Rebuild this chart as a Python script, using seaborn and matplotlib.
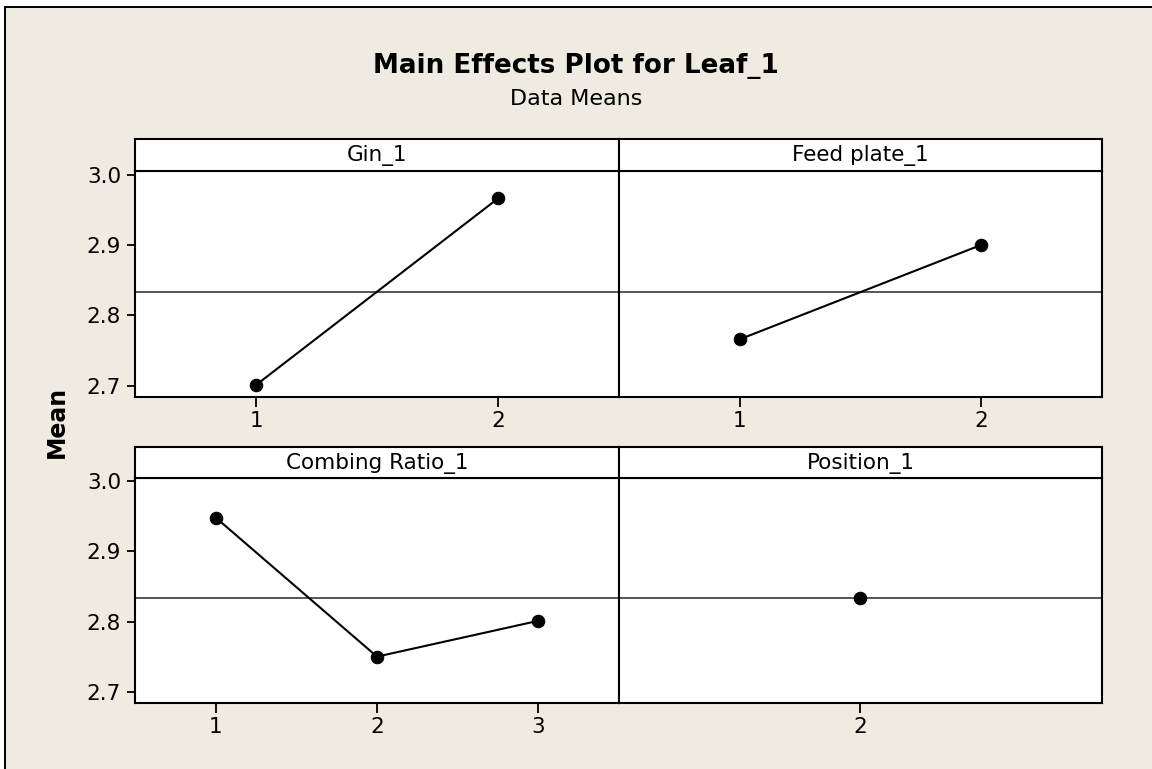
import matplotlib
matplotlib.use("Agg")
import matplotlib.pyplot as plt
from matplotlib.patches import Rectangle
import seaborn as sns
import pandas as pd

# Factor names and their level means (response: Leaf_1)
factors = ["Gin_1", "Feed plate_1", "Combing Ratio_1", "Position_1"]
gin_levels = [1, 2]
gin_means = [2.701, 2.966]
feed_levels = [1, 2]
feed_means = [2.766, 2.900]
combing_levels = [1, 2, 3]
combing_means = [2.948, 2.750, 2.801]
position_levels = [2]
position_means = [2.833]
grand_mean = 2.833
y_ticks = [2.7, 2.8, 2.9, 3.0]

levels = [gin_levels, feed_levels, combing_levels, position_levels]
means = [gin_means, feed_means, combing_means, position_means]
df = pd.DataFrame(
    [(f, lv, m) for f, lvs, ms in zip(factors, levels, means) for lv, m in zip(lvs, ms)],
    columns=["factor", "level", "mean"],
)

sns.set_theme(style="white")
plt.rcParams["font.family"] = ["DejaVu Sans"]
plt.rcParams["text.color"] = "black"

W, H = 1152, 769
BG = "#EFEBE1"
fig = plt.figure(figsize=(W / 100, H / 100), dpi=100, facecolor="white")

# graph window background with its border
fig.patches.append(Rectangle((5 / W, -0.02), 1.1, (H - 7) / H + 0.02,
                             transform=fig.transFigure, facecolor=BG,
                             edgecolor="black", linewidth=1.4, zorder=-10))


def fx(px):
    return px / W


def fy(py):
    return 1 - py / H


# panel geometry in pixels: (left, right) x (strip top, strip bottom, axes bottom)
cols = [(135, 619), (619, 1102)]
rows = [(139, 171, 397), (447, 477.5, 703)]
ylim = (2.684, 3.005)

for i, factor in enumerate(factors):
    r, c = divmod(i, 2)
    x0, x1 = cols[c]
    st, sb, ab = rows[r]
    ax = fig.add_axes([fx(x0), fy(ab), fx(x1 - x0), (ab - sb) / H])
    sax = fig.add_axes([fx(x0), fy(sb), fx(x1 - x0), (sb - st) / H])

    sub = df[df["factor"] == factor]
    ax.axhline(grand_mean, color="#555555", linewidth=1.4, zorder=1)
    sns.lineplot(data=sub, x="level", y="mean", ax=ax, color="black",
                 linewidth=1.5, marker="o", markersize=9,
                 markeredgecolor="black", markerfacecolor="black", zorder=3)

    lv = levels[i]
    if len(lv) > 1:
        ax.set_xlim(min(lv) - 0.5, max(lv) + 0.5)
    else:
        ax.set_xlim(lv[0] - 0.5, lv[0] + 0.5)
    ax.set_xticks(lv)
    ax.set_xticklabels([str(v) for v in lv])
    ax.set_ylim(*ylim)
    ax.set_facecolor("white")
    ax.set_xlabel("")
    ax.set_ylabel("")
    ax.tick_params(axis="x", direction="out", length=7, width=1.3,
                   color="black", labelcolor="black", labelsize=15.5,
                   pad=3, bottom=True)
    if c == 0:
        ax.set_yticks(y_ticks)
        ax.set_yticklabels([f"{v:.1f}" for v in y_ticks])
        ax.tick_params(axis="y", direction="out", length=6, width=1.3,
                       color="black", labelcolor="black", labelsize=15.5,
                       pad=4, left=True)
    else:
        ax.set_yticks([])
    for sp in ax.spines.values():
        sp.set_visible(True)
        sp.set_color("black")
        sp.set_linewidth(1.5)

    sax.set_facecolor("white")
    sax.set_xticks([])
    sax.set_yticks([])
    for sp in sax.spines.values():
        sp.set_visible(True)
        sp.set_color("black")
        sp.set_linewidth(1.5)
    sax.text(0.5, 0.47, factor, transform=sax.transAxes, ha="center",
             va="center", fontsize=15.5, color="black")

fig.text(0.5, fy(73), "Main Effects Plot for Leaf_1", ha="center",
         va="baseline", fontsize=18.8, fontweight="bold", color="black")
fig.text(0.5, fy(105), "Data Means", ha="center", va="baseline",
         fontsize=16, color="black")
fig.text(fx(57), fy(422), "Mean", ha="center", va="center", rotation=90,
         fontsize=17, fontweight="bold", color="black")

fig.savefig("out.png", dpi=100, facecolor=fig.get_facecolor())
